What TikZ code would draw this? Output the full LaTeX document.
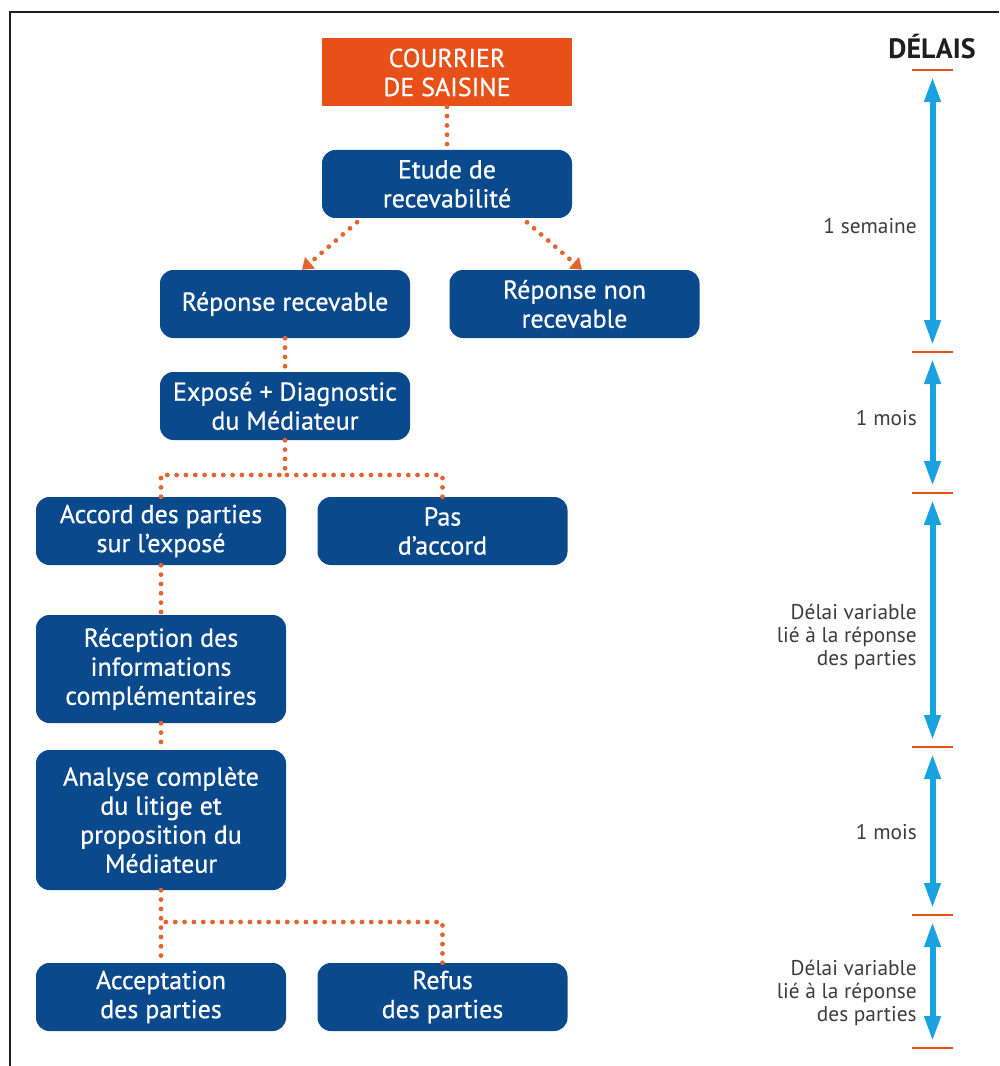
\documentclass[tikz,border=0pt]{standalone}
\usepackage{fontspec}
\setmainfont{PT Sans}
\newfontfamily\boxfont[FakeBold=0.6]{PT Sans}
\usetikzlibrary{arrows.meta,calc}
\newlength{\boxwidth}
\newlength{\boxheight}
\newlength{\boxradius}
\setlength{\boxwidth}{187.5pt}
\setlength{\boxheight}{51pt}
\setlength{\boxradius}{10pt}
\definecolor{saisinefill}{HTML}{E8501A}
\definecolor{dotline}{HTML}{E2642F}
\definecolor{stepfill}{HTML}{0A4A8C}
\definecolor{delayarrow}{HTML}{1AA1E0}
\definecolor{delayfont}{HTML}{3C3C3C}
\definecolor{framecolor}{HTML}{1E1E1E}

\begin{document}
\begin{tikzpicture}[x=0.75pt,y=-0.75pt,
    stepbox/.style={fill=stepfill,rounded corners=\boxradius,text=white,align=center,
      minimum width=\boxwidth,minimum height=\boxheight,inner sep=0pt,
      font=\boxfont\fontsize{19.5}{21.75}\selectfont},
    startbox/.style={stepbox,fill=saisinefill,rounded corners=0pt},
    link/.style={draw=dotline,line width=3.6pt,dash pattern=on 0pt off 7pt,line cap=round},
    linktip/.style={link,-{Triangle[width=11pt,length=8pt]}},
    tick/.style={draw=saisinefill,line width=1.6pt},
    span/.style={draw=delayarrow,line width=4.5pt,
      {Triangle[width=11.5pt,length=19pt]}-{Triangle[width=11.5pt,length=19pt]},
      shorten <=5pt,shorten >=5pt},
    delay/.style={anchor=east,align=right,text=delayfont,inner sep=0pt,
      font=\fontsize{16}{17}\selectfont}]
  % Boundary box
  \useasboundingbox (0,0) rectangle (999,1066);
  \draw[framecolor,line width=1.1pt] (999,12) -- (10,12) -- (10,1066);

  % Steps of the procedure
  \node[startbox] (saisine) at (447,72.5) {COURRIER\\DE SAISINE};
  \node[stepbox] (etude) at (447,184) {Etude de\\recevabilité};
  \node[stepbox] (recev) at (285,304) {Réponse recevable};
  \node[stepbox] (nonrecev) at (574.5,304) {Réponse non\\recevable};
  \node[stepbox] (expose) at (285,406) {Exposé + Diagnostic\\du Médiateur};
  \node[stepbox] (accord) at (161,531) {Accord des parties\\sur l’exposé};
  \node[stepbox] (pasaccord) at (442.5,531) {Pas\\d’accord};
  \node[stepbox,minimum height=81pt] (reception) at (161,669) {Réception des\\informations\\complémentaires};
  \node[stepbox,minimum height=105pt] (analyse) at (161,820) {Analyse complète\\du litige et\\proposition du\\Médiateur};
  \node[stepbox] (acceptation) at (161,997) {Acceptation\\des parties};
  \node[stepbox] (refus) at (442.5,997) {Refus\\des parties};

  % Dotted links
  \coordinate (split1) at (285,475);
  \coordinate (split2) at (161,922);
  \draw[link] (saisine) -- (etude);
  \draw[linktip] ($(etude.south)+(-90,4)$) -- ($(recev.north)+(17,0)$);
  \draw[linktip] ($(etude.south)+(80,4)$) -- ($(nonrecev.north)+(7.5,0)$);
  \draw[link] (recev) -- (expose);
  \draw[link] (expose) -- (split1);
  \draw[link] (accord.north) |- (split1);
  \draw[link] (pasaccord.north) |- (split1);
  \draw[link] (accord) -- (reception);
  \draw[link] (reception) -- (analyse);
  \draw[link] (analyse) -- (acceptation);
  \draw[link] (refus.north) |- (split2);

  % Time scale
  \node[font=\fontsize{21}{24}\bfseries,text=framecolor] (delais) at (932,47) {DÉLAIS};
  \foreach \y [count=\i from 0] in {70,352,493,747,915,1048}
    \draw[tick] (912,\y) -- (953,\y) coordinate[pos=0.5] (t\i);
  \draw[span] (t0) -- (t1);
  \draw[span] (t1) -- (t2);
  \draw[span] (t2) -- (t3);
  \draw[span] (t3) -- (t4);
  \draw[span] (t4) -- (t5);
  \node[delay] (d1) at (917,226) {1 semaine};
  \node[delay] (d2) at (917,418) {1 mois};
  \node[delay] (d3) at (917,637) {Délai variable\\lié à la réponse\\des parties};
  \node[delay] (d4) at (917,832) {1 mois};
  \node[delay] (d5) at (917,993) {Délai variable\\lié à la réponse\\des parties};
\end{tikzpicture}
\end{document}
